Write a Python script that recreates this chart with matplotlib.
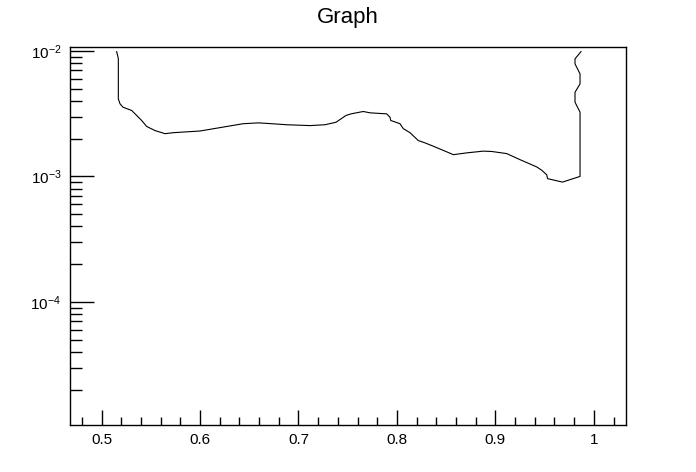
import matplotlib
matplotlib.use('Agg')
import matplotlib.pyplot as plt
from matplotlib.ticker import LogLocator, MultipleLocator, LogFormatterSciNotation
import numpy as np

plt.rcParams['font.family'] = ['Liberation Sans', 'DejaVu Sans']
plt.rcParams['mathtext.fontset'] = 'custom'
plt.rcParams['mathtext.rm'] = 'Liberation Sans'
plt.rcParams['mathtext.it'] = 'Liberation Sans:italic'
plt.rcParams['mathtext.bf'] = 'Liberation Sans:bold'

# contour-like graph
x = [0.5153, 0.5170, 0.5170, 0.5187, 0.5217, 0.5306, 0.5407, 0.5458, 0.5542,
     0.5644, 0.5728, 0.6000, 0.6233, 0.6439, 0.6592, 0.6728, 0.6880, 0.7117,
     0.7269, 0.7381, 0.7483, 0.7534, 0.7658, 0.7727, 0.7896, 0.7930, 0.7937,
     0.8031, 0.8065, 0.8133, 0.8217, 0.8285, 0.8370, 0.8539, 0.8573, 0.8709,
     0.8877, 0.8963, 0.9115, 0.9250, 0.9420, 0.9471, 0.9522, 0.9530, 0.9682,
     0.9860, 0.9860, 0.9809, 0.9809, 0.9860, 0.9860, 0.9809, 0.9809, 0.9870]
y = [0.00987, 0.00868, 0.00415, 0.00379, 0.00356, 0.00335, 0.00279, 0.00250,
     0.00232, 0.00219, 0.00223, 0.00230, 0.00247, 0.00263, 0.00267, 0.00263,
     0.00258, 0.00254, 0.00258, 0.00270, 0.00306, 0.00315, 0.00329, 0.00321,
     0.00315, 0.00296, 0.00279, 0.00263, 0.00240, 0.00223, 0.00193, 0.00185,
     0.00174, 0.00153, 0.00149, 0.00154, 0.00159, 0.00158, 0.00152, 0.00136,
     0.00119, 0.00112, 0.00103, 0.00096, 0.000901, 0.00100, 0.00325, 0.00390,
     0.00468, 0.00546, 0.00656, 0.00788, 0.00864, 0.00987]

fig = plt.figure(figsize=(6.96, 4.72), dpi=100)
ax = fig.add_axes([0.1, 0.1, 0.8, 0.8])

ax.plot(x, y, color='black', lw=0.8)

ax.set_yscale('log')
ax.set_xlim(0.4675, 1.0331)
ax.set_ylim(1.05e-5, 0.0107)

ax.xaxis.set_major_locator(MultipleLocator(0.1))
ax.xaxis.set_minor_locator(MultipleLocator(0.02))
ax.set_xticks([0.5, 0.6, 0.7, 0.8, 0.9, 1.0])
ax.set_xticklabels(['0.5', '0.6', '0.7', '0.8', '0.9', '1'])
ax.yaxis.set_major_locator(LogLocator(base=10, numticks=10))
ax.yaxis.set_minor_locator(LogLocator(base=10, subs=np.arange(2, 10), numticks=20))
ax.yaxis.set_major_formatter(LogFormatterSciNotation())
ax.yaxis.set_minor_formatter(plt.NullFormatter())

ax.tick_params(which='both', direction='in', top=False, right=False,
               labelsize=11, width=1, color='black')
ax.tick_params(axis='x', which='major', length=11, pad=6)
ax.tick_params(axis='x', which='minor', length=5.5)
ax.tick_params(axis='y', which='major', length=17, pad=6)
ax.tick_params(axis='y', which='minor', length=8.5)
for s in ax.spines.values():
    s.set_linewidth(1)

fig.text(0.5, 0.963, 'Graph', ha='center', va='center', fontsize=16)

fig.savefig('out.png', dpi=100)
